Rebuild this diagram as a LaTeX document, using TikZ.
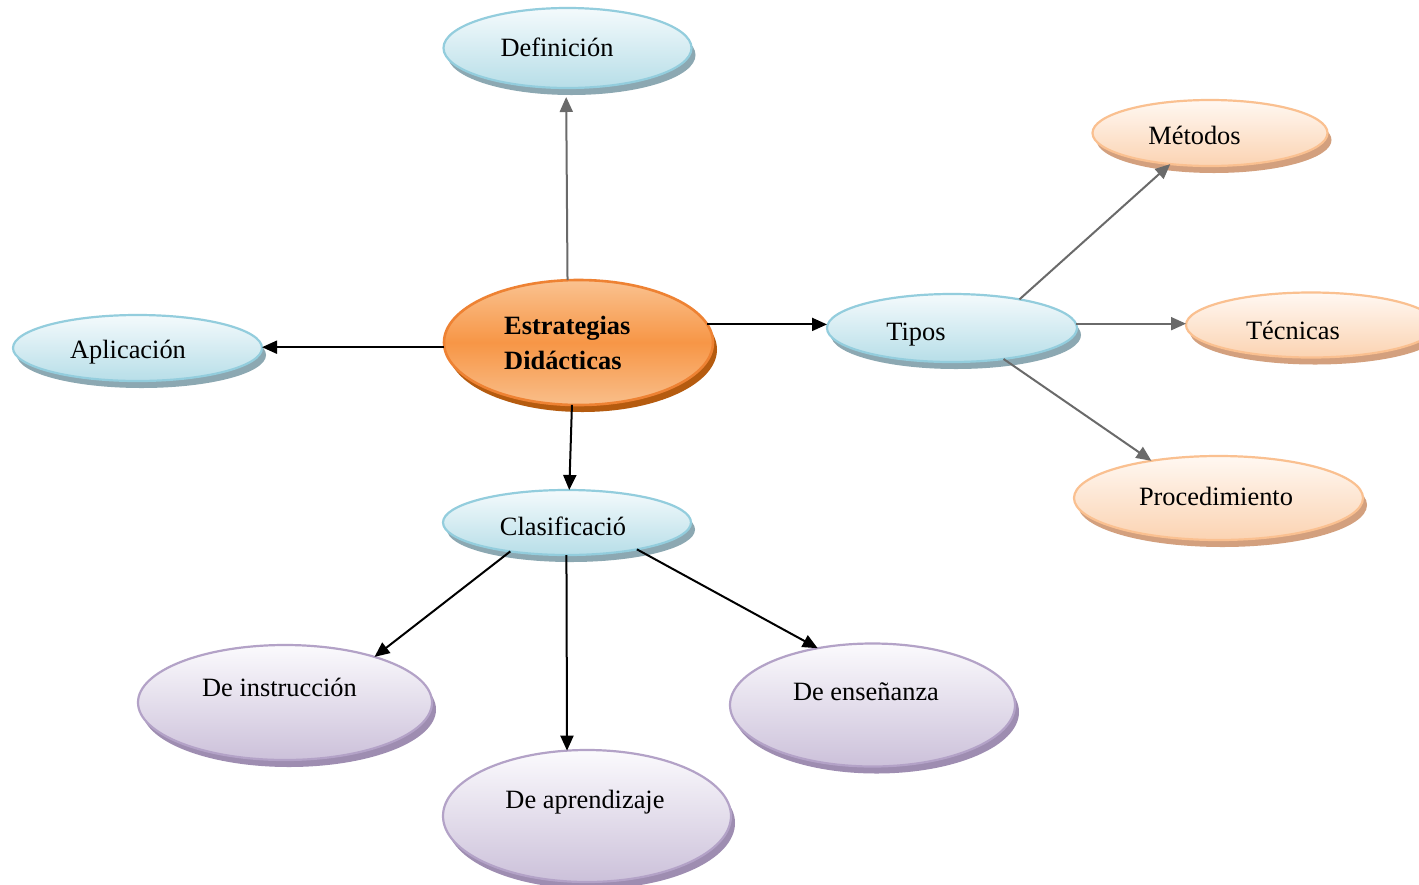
\documentclass[tikz,border=0pt]{standalone}
\usepackage{fontspec}
\setmainfont{Liberation Serif}
\usetikzlibrary{shapes.geometric,shadows,arrows.meta}

% palette
\definecolor{blueTop}{HTML}{F4FAFC}
\definecolor{blueBot}{HTML}{B7DEE8}
\definecolor{blueLine}{HTML}{93CDDD}
\definecolor{blueShade}{HTML}{8CA8B2}
\definecolor{coreTop}{HTML}{FAC290}
\definecolor{coreMid}{HTML}{F79646}
\definecolor{coreBot}{HTML}{F9BE8A}
\definecolor{coreLine}{HTML}{EE8233}
\definecolor{coreShade}{HTML}{B55B0F}
\definecolor{peachTop}{HTML}{FFF8F2}
\definecolor{peachBot}{HTML}{FBD3B2}
\definecolor{peachLine}{HTML}{FAC090}
\definecolor{peachShade}{HTML}{D3A07E}
\definecolor{lilacTop}{HTML}{FBFAFD}
\definecolor{lilacBot}{HTML}{CCC1DA}
\definecolor{lilacLine}{HTML}{B3A2C7}
\definecolor{lilacShade}{HTML}{9E8DB1}
\definecolor{linkGray}{HTML}{6A6A6A}

\begin{document}
\begin{tikzpicture}[x=1pt,y=-1pt,
  bubble/.style={ellipse, inner sep=0pt, outer sep=0pt, line width=2.2pt},
  blueb/.style={bubble, draw=blueLine, top color=blueTop, bottom color=blueBot,
    drop shadow={shadow xshift=4pt,shadow yshift=-7pt,fill=blueShade,opacity=1}},
  coreb/.style={bubble, line width=2.6pt, draw=coreLine, top color=coreTop, bottom color=coreBot, middle color=coreMid,
    drop shadow={shadow xshift=4pt,shadow yshift=-7pt,fill=coreShade,opacity=1}},
  peachb/.style={bubble, draw=peachLine, top color=peachTop, bottom color=peachBot,
    drop shadow={shadow xshift=4pt,shadow yshift=-7pt,fill=peachShade,opacity=1}},
  lilacb/.style={bubble, draw=lilacLine, top color=lilacTop, bottom color=lilacBot,
    drop shadow={shadow xshift=4pt,shadow yshift=-7pt,fill=lilacShade,opacity=1}},
  txt/.style={anchor=base, inner sep=0pt, font=\fontsize{26.4}{30}\selectfont},
  boldtxt/.style={anchor=base west, inner sep=0pt, font=\fontsize{26.4}{30}\selectfont\bfseries},
  linkB/.style={draw=black, line width=2pt, -{Triangle[length=15pt,width=13pt]}},
  linkG/.style={draw=linkGray, line width=2pt, -{Triangle[length=15pt,width=13pt]}}
]
\useasboundingbox (0,0) rectangle (1419,884);
\fill[white] (0,0) rectangle (1419,884);

% bubbles
\node[coreb,  minimum width=269pt, minimum height=125pt] (est) at (578.5,342.5) {};
\node[blueb,  minimum width=248pt, minimum height=80pt]  (def) at (567.5,48) {};
\node[blueb,  minimum width=249pt, minimum height=66pt]  (apl) at (137.5,348) {};
\node[blueb,  minimum width=250pt, minimum height=68pt]  (tip) at (952,328) {};
\node[blueb,  minimum width=248pt, minimum height=65pt]  (cla) at (567,522.5) {};
\node[peachb, minimum width=235pt, minimum height=66pt]  (met) at (1210,133) {};
\node[peachb, minimum width=250pt, minimum height=65pt]  (tec) at (1311,325) {};
\node[peachb, minimum width=289pt, minimum height=84pt]  (pro) at (1218.5,498) {};
\node[lilacb, minimum width=294pt, minimum height=115pt] (ins) at (285,702.5) {};
\node[lilacb, minimum width=288pt, minimum height=132pt] (apr) at (587,816) {};
\node[lilacb, minimum width=285pt, minimum height=123pt] (ens) at (872.5,705) {};

% labels
\node[boldtxt] (tEst1) at (504,334.3) {Estrategias};
\node[boldtxt] (tEst2) at (504,369.3) {Didácticas};
\node[txt] (tDef) at (557,56.7) {Definición};
\node[txt] (tApl) at (128,358.3) {Aplicación};
\node[txt] (tTip) at (916,340) {Tipos};
\node[txt] (tCla) at (563,535) {Clasificació};
\node[txt] (tMet) at (1194.5,144.3) {Métodos};
\node[txt] (tTec) at (1293,339.3) {Técnicas};
\node[txt] (tPro) at (1216,505.7) {Procedimiento};
\node[txt] (tIns) at (279.5,696.7) {De instrucción};
\node[txt] (tApr) at (585,808.3) {De aprendizaje};
\node[txt] (tEns) at (866,700) {De enseñanza};

% connectors from the central topic
\draw[linkG, shorten >=9pt] (est.100) -- (def.268);
\draw[linkB] (est.182) -- (est.182 -| apl.east);
\draw[linkB] (est.8) -- (est.8 -| tip.west);
\draw[linkB] (est.264) -- (cla.86);

% kinds
\draw[linkG] (tip.23) -- (met.218);
\draw[linkG] (tip.2) -- (tip.2 -| tec.west);
\draw[linkG] (tip.329) -- (pro.151);

% classification branches
\draw[linkB] (cla.207) -- (ins.27);
\draw[linkB] (cla.269) -- (apr.107);
\draw[linkB] (cla.339) -- (ens.134);
\end{tikzpicture}
\end{document}
